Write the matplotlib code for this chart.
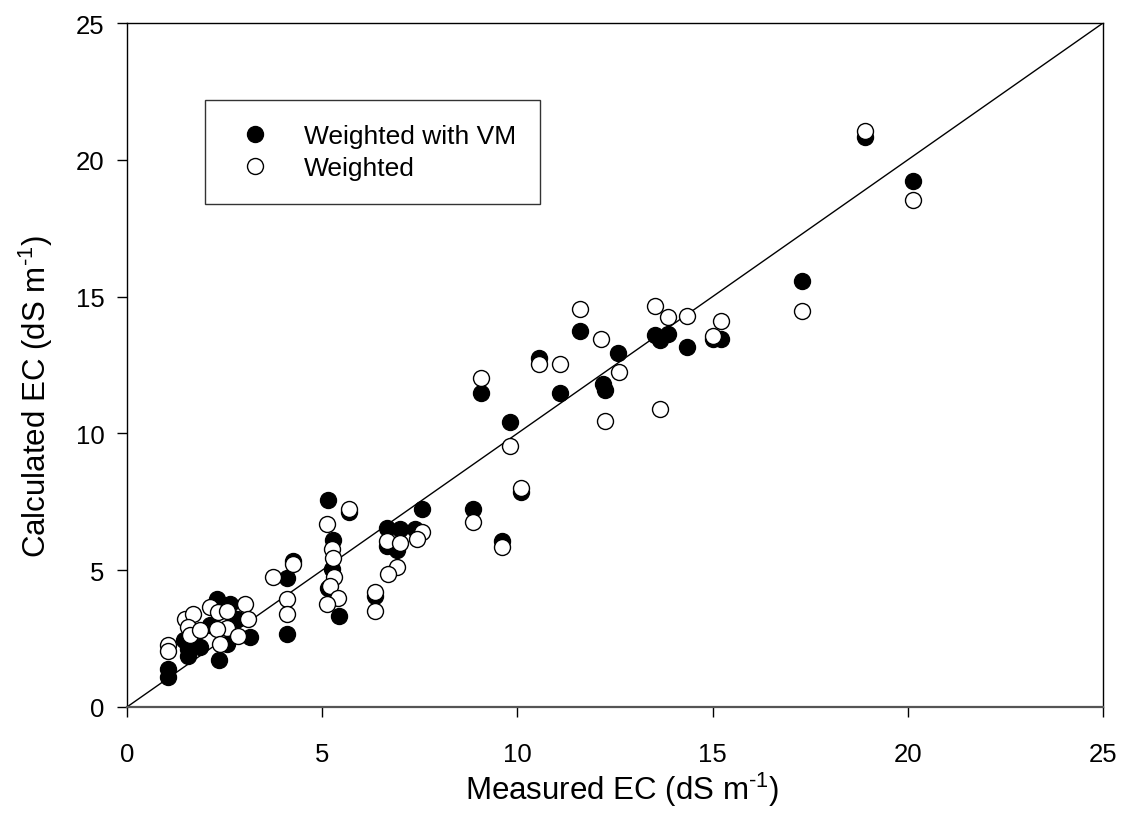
import matplotlib
matplotlib.use("Agg")
import matplotlib.pyplot as plt
from matplotlib.lines import Line2D

plt.rcParams['font.family'] = ['Liberation Sans', 'DejaVu Sans']
plt.rcParams['mathtext.fontset'] = 'custom'
plt.rcParams['mathtext.rm'] = 'Liberation Sans'
plt.rcParams['mathtext.it'] = 'Liberation Sans'

# Weighted with VM (filled)
vm_x = [1.05, 1.05, 1.56, 1.56, 1.87, 1.45, 2.30, 2.64, 2.82, 2.13, 3.15, 2.56, 2.36,
        4.10, 4.25, 4.10, 5.15, 5.69, 5.28, 5.25, 5.15, 5.43, 6.66, 6.99, 7.38, 6.66,
        6.92, 6.35, 7.56, 8.86, 9.60, 10.09, 9.81, 9.07, 10.55, 11.09, 11.60, 12.19,
        12.24, 12.58, 13.52, 13.86, 13.65, 14.34, 15.01, 15.21, 17.29, 18.90, 20.13]
vm_y = [1.39, 1.10, 2.12, 1.86, 2.19, 2.45, 3.95, 3.75, 3.22, 3.00, 2.56, 2.30, 1.72,
        4.70, 5.35, 2.65, 7.57, 7.13, 6.10, 5.04, 4.35, 3.33, 6.55, 6.50, 6.50, 5.90,
        5.75, 4.05, 7.24, 7.24, 6.05, 7.86, 10.43, 11.48, 12.75, 11.48, 13.74, 11.80,
        11.58, 12.94, 13.60, 13.63, 13.40, 13.16, 13.45, 13.45, 15.57, 20.83, 19.22]

# Weighted (open)
w_x = [1.05, 1.05, 1.49, 1.69, 1.56, 1.61, 1.87, 2.13, 2.33, 3.02, 2.56, 2.56, 2.30,
       3.10, 2.84, 2.38, 3.74, 4.25, 4.10, 4.10, 5.12, 5.69, 5.25, 5.28, 5.30, 5.20,
       5.40, 5.12, 7.56, 7.43, 6.66, 6.99, 6.92, 6.69, 6.35, 6.35, 8.86, 9.60, 10.09,
       9.81, 9.07, 10.55, 11.09, 11.60, 12.14, 12.60, 12.24, 13.52, 13.86, 14.34, 13.65,
       15.01, 15.21, 17.29, 18.90, 20.13]
w_y = [2.28, 2.03, 3.22, 3.40, 2.92, 2.62, 2.82, 3.65, 3.48, 3.76, 3.50, 2.90, 2.85,
       3.20, 2.60, 2.30, 4.75, 5.23, 3.95, 3.40, 6.67, 7.24, 5.78, 5.45, 4.75, 4.42,
       3.98, 3.76, 6.38, 6.14, 6.05, 6.01, 5.10, 4.86, 4.22, 3.51, 6.76, 5.86, 8.02,
       9.54, 12.02, 12.52, 12.54, 14.55, 13.45, 12.24, 10.45, 14.66, 14.25, 14.30, 10.89,
       13.56, 14.11, 14.47, 21.06, 18.53]

ticks = [0, 5, 10, 15, 20, 25]
line_x = [0, 25]
line_y = [0, 25]

fig = plt.figure(figsize=(11.23, 8.29), dpi=100)
ax = fig.add_axes([0.1131, 0.146, 0.8691, 0.825])

ax.plot(line_x, line_y, color='black', lw=1.0, zorder=1)
ax.plot(vm_x, vm_y, 'o', ms=11.5, mfc='black', mec='black', mew=1.0, ls='none', zorder=2)
ax.plot(w_x, w_y, 'o', ms=11.5, mfc='white', mec='black', mew=1.0, ls='none', zorder=3)

ax.set_xlim(0, 25)
ax.set_ylim(0, 25)
ax.set_xticks(ticks)
ax.set_yticks(ticks)
ax.tick_params(axis='x', direction='out', length=7, width=1, labelsize=18.5, pad=18)
ax.tick_params(axis='y', direction='out', length=7, width=1, labelsize=18.5, pad=9)
ax.spines['bottom'].set_color('#555555')
ax.spines['bottom'].set_linewidth(1.6)
for s in ['left', 'top', 'right']:
    ax.spines[s].set_linewidth(1.0)
    ax.spines[s].set_color('black')

ax.set_xlabel(r'Measured EC (dS m$^{\text{-1}}$)', fontsize=22.5, va='center')
ax.set_ylabel(r'Calculated EC (dS m$^{\text{-1}}$)', fontsize=22.5, va='center')
ax.xaxis.set_label_coords(0.507, -0.12)
ax.yaxis.set_label_coords(-0.093, 0.456)

handles = [Line2D([], [], marker='o', ls='none', ms=11.5, mfc='black', mec='black'),
           Line2D([], [], marker='o', ls='none', ms=11.5, mfc='white', mec='black')]
leg = ax.legend(handles, ['Weighted with VM', 'Weighted'], loc='upper left',
                bbox_to_anchor=(0.08, 0.887), fontsize=19, frameon=True, fancybox=False,
                edgecolor='black', borderpad=0.9, handletextpad=0.85, labelspacing=0.3,
                borderaxespad=0)
leg.get_frame().set_linewidth(1.0)

fig.savefig('out.png', dpi=100)
